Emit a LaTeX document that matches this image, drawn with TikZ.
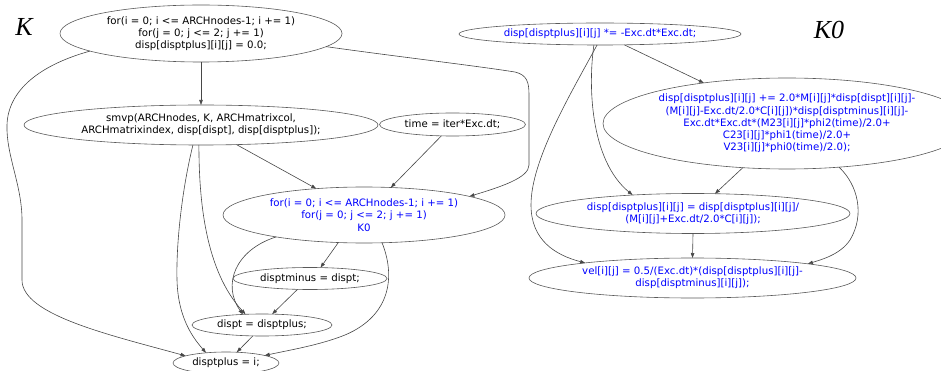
\documentclass[tikz,border=0pt]{standalone}
\usepackage{fontspec}
\setmainfont{DejaVu Sans}
\newfontfamily\labfont{Liberation Serif}
\usetikzlibrary{shapes.geometric,arrows.meta}
\definecolor{codeblue}{RGB}{0,0,255}
\begin{document}
\begin{tikzpicture}[x=1pt,y=-1pt,
  every node/.style={inner sep=0pt,outer sep=0pt},
  stmt/.style={ellipse,draw=black!65,line width=0.6pt,align=center,font=\fontsize{10.2}{12.3}\selectfont},
  bluestmt/.style={stmt,text=codeblue},
  edge/.style={draw=black!72,line width=0.6pt,-{Triangle[length=5pt,width=3.5pt]}},
  lab/.style={font=\labfont\itshape\fontsize{26}{26}\selectfont,anchor=base}]
\useasboundingbox (0,0) rectangle (941,371);
\node[lab] (K) at (24,36) {K};
\node[lab] (K0) at (829,39) {K0};
% left cluster
\node[stmt,minimum width=282pt,minimum height=57pt] (n1) at (201,33.5) {for(i = 0; i <= ARCHnodes-1; i += 1)\\for(j = 0; j <= 2; j += 1)\\disp[disptplus][i][j] = 0.0;};
\node[stmt,minimum width=354pt,minimum height=40pt] (n2) at (201,125) {smvp(ARCHnodes, K, ARCHmatrixcol,\\ARCHmatrixindex, disp[dispt], disp[disptplus]);};
\node[stmt,minimum width=146pt,minimum height=23pt] (n3) at (452.5,124.5) {time = iter*Exc.dt;};
\node[bluestmt,minimum width=282pt,minimum height=56pt] (n4) at (364,215) {for(i = 0; i <= ARCHnodes-1; i += 1)\\for(j = 0; j <= 2; j += 1)\\K0};
\node[stmt,minimum width=154pt,minimum height=22pt] (n5) at (310,278.5) {disptminus = dispt;};
\node[stmt,minimum width=140pt,minimum height=22pt] (n6) at (262,325) {dispt = disptplus;};
\node[stmt,minimum width=106pt,minimum height=22pt] (n7) at (226,363) {disptplus = i;};
% right cluster
\node[bluestmt,minimum width=282pt,minimum height=22pt] (m1) at (600,34) {disp[disptplus][i][j] *= -Exc.dt*Exc.dt;};
\node[bluestmt,minimum width=368pt,minimum height=91pt] (m2) at (787,123.5) {disp[disptplus][i][j] += 2.0*M[i][j]*disp[dispt][i][j]-\\(M[i][j]-Exc.dt/2.0*C[i][j])*disp[disptminus][i][j]-\\Exc.dt*Exc.dt*(M23[i][j]*phi2(time)/2.0+\\C23[i][j]*phi1(time)/2.0+\\V23[i][j]*phi0(time)/2.0);};
\node[bluestmt,minimum width=314pt,minimum height=40pt] (m3) at (693,213.5) {disp[disptplus][i][j] = disp[disptplus][i][j]/\\(M[i][j]+Exc.dt/2.0*C[i][j]);};
\node[bluestmt,minimum width=327pt,minimum height=40pt] (m4) at (692.5,278) {vel[i][j] = 0.5/(Exc.dt)*(disp[disptplus][i][j]-\\disp[disptminus][i][j]);};
% left edges
\draw[edge] (n1.south) -- (n2.north);
\draw[edge] (n1.189) .. controls (40,65) and (8,90) .. (7,125) .. controls (6,155) and (22,185) .. (22,220) -- (22,280) .. controls (22,315) and (110,335) .. (n7.170);
\draw[edge] (n1.-6.4) .. controls (400,57) and (470,65) .. (515,72) .. controls (527,75) and (529,82) .. (529,95) -- (529,165) .. controls (529,178) and (500,187) .. (n4.10.4);
\draw[edge] (n2) -- (n4);
\draw[edge] (n3) -- (n4);
\draw[edge] (n2.248) .. controls (183,185) and (176,240) .. (177,280) .. controls (178,320) and (195,340) .. (n7.153);
\draw[edge] (n2.264) .. controls (199,200) and (205,270) .. (n6.147);
\draw[edge] (n4.194) .. controls (235,250) and (222,285) .. (n6.151);
\draw[edge] (n4.227) -- (n5.46);
\draw[edge] (n4.-57) .. controls (395,275) and (392,315) .. (345,335) .. controls (320,345) and (290,350) .. (n7.11);
\draw[edge] (n5.221) -- (n6.47);
\draw[edge] (n6.230) -- (n7.45);
% right edges
\draw[edge] (m1.-24) -- (m2.154);
\draw[edge] (m1.255) .. controls (570,95) and (531,160) .. (531,205) .. controls (531,240) and (555,255) .. (m4.172);
\draw[edge] (m1.241) .. controls (588,85) and (590,160) .. (m3.163);
\draw[edge] (m2.225) -- (m3.42);
\draw[edge] (m2.-40.6) .. controls (858,185) and (865,215) .. (850,240) .. controls (840,255) and (820,260) .. (m4.7.5);
\draw[edge] (m3.south) -- (m4.north);
\end{tikzpicture}
\end{document}
